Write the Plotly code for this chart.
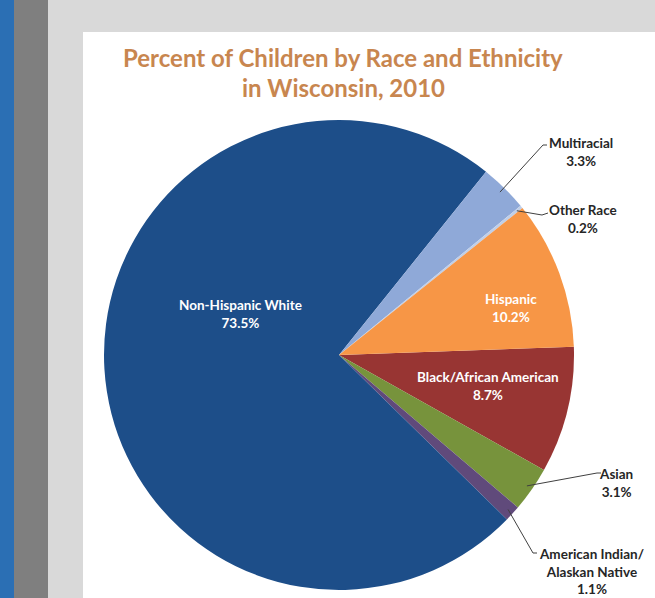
import math
import plotly.graph_objects as go

# ---- data ----
categories = ["Black/African American", "Asian", "American Indian/<br>Alaskan Native",
              "Non-Hispanic White", "Multiracial", "Other Race", "Hispanic"]
values = [8.7, 3.1, 1.1, 73.5, 3.3, 0.2, 10.2]
colors = ["#983533", "#77933c", "#604a7b", "#1d4e89", "#8fa9d8", "#c0cfe8", "#f79646"]

W, H = 655, 598
CX, CY, R = 339, 355, 235
ROT = 88  # plotly rotation (deg from 12 o'clock)

def px(x):
    return x / W

def py(y):
    return 1 - y / H

fig = go.Figure(go.Pie(
    labels=categories, values=values, sort=False, direction="clockwise",
    rotation=ROT, marker=dict(colors=colors, line=dict(width=0)),
    textinfo="none", hoverinfo="label+percent", showlegend=False,
    domain=dict(x=[px(CX - R), px(CX + R)], y=[py(CY + R), py(CY - R)]),
))

total = sum(values)
start = ROT - 90  # degrees clockwise from 3 o'clock (screen)
mids = []
cum = 0
for v in values:
    a0 = start + cum / total * 360
    cum += v
    a1 = start + cum / total * 360
    mids.append((a0 + a1) / 2)

def edge(i, r=R):
    a = math.radians(mids[i])
    return CX + r * math.cos(a), CY + r * math.sin(a)

shapes = [
    dict(type="rect", xref="paper", yref="paper", x0=0, x1=px(14), y0=0, y1=1,
         fillcolor="#2b6fb4", line=dict(width=0), layer="below"),
    dict(type="rect", xref="paper", yref="paper", x0=px(14), x1=px(48), y0=0, y1=1,
         fillcolor="#7f7f7f", line=dict(width=0), layer="below"),
    dict(type="rect", xref="paper", yref="paper", x0=px(83), x1=1, y0=0, y1=py(32),
         fillcolor="#ffffff", line=dict(width=0), layer="below"),
]

FONT = "Lato, sans-serif"
annotations = []

def text_at(text, x, y, color, size):
    annotations.append(dict(text="<b>" + text + "</b>", x=px(x), y=py(y), xref="paper",
                            yref="paper", showarrow=False, xanchor="center",
                            yanchor="middle",
                            font=dict(family=FONT, size=size, color=color)))

text_at("Percent of Children by Race and Ethnicity", 343, 57, "#c8864f", 24)
text_at("in Wisconsin, 2010", 343, 87, "#c8864f", 24)

def label(i, x, y, color):
    text_at(categories[i] + "<br>" + f"{values[i]}%", x, y, color, 13.5)

inside = {3: (240, 314), 6: (511, 308), 0: (488, 386)}
for i, (x, y) in inside.items():
    label(i, x, y, "#ffffff")

# outside labels with elbow leader lines: (elbow point, end point, label center)
outside = {
    4: ((543, 145), (547, 145), (581, 152)),
    5: ((542, 215), (548, 213), (583, 219)),
    1: ((597, 473), (601, 473), (616, 483)),
    2: ((533, 553), (537, 553), (591, 571)),
}
for i, (elbow, end, lab) in outside.items():
    sx, sy = edge(i, R - 6)
    path = f"M {px(sx)},{py(sy)} L {px(elbow[0])},{py(elbow[1])} L {px(end[0])},{py(end[1])}"
    shapes.append(dict(type="path", xref="paper", yref="paper", path=path,
                       line=dict(color="#404040", width=1), layer="above"))
    label(i, lab[0], lab[1], "#262626")

fig.update_layout(width=W, height=H, margin=dict(l=0, r=0, t=0, b=0),
                  paper_bgcolor="#d9d9d9", plot_bgcolor="#d9d9d9",
                  shapes=shapes, annotations=annotations)
fig.write_html("out.html", config={"displayModeBar": False},
               post_script="document.body.style.margin='0';document.body.style.padding='0';")
